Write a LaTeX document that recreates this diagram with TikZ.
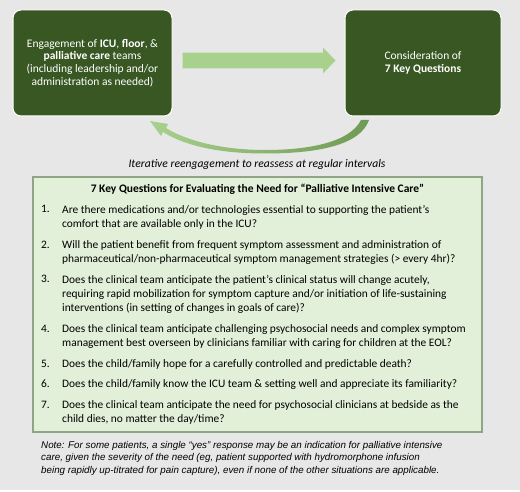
\documentclass[tikz,border=0pt]{standalone}
\usepackage{fontspec}
\setmainfont{Carlito}
\newfontfamily\notefont{Liberation Sans}
\usetikzlibrary{positioning}

\definecolor{bgGray}{HTML}{E7E7E7}
\definecolor{teamGreen}{HTML}{385723}
\definecolor{arrowGreen}{HTML}{A9D18E}
\definecolor{loopGreen}{HTML}{6E9A54}
\definecolor{qFill}{HTML}{E2EFD9}
\definecolor{qEdge}{HTML}{8FA585}

\begin{document}
\begin{tikzpicture}[
  x=1pt, y=-1pt,
  teambox/.style={draw=white, line width=1pt, fill=teamGreen, rounded corners=8pt,
                  text=white, align=center, inner sep=0pt,
                  font=\fontsize{11.5}{12.7}\selectfont},
  qbox/.style={draw=qEdge, line width=1.5pt, fill=qFill, inner sep=0pt},
  qnum/.style={anchor=base west, inner sep=0pt, font=\fontsize{11.4}{14}\selectfont},
  qtext/.style={anchor=north west, inner sep=0pt, align=left,
                font=\fontsize{11.4}{14}\selectfont},
  notetext/.style={anchor=north west, inner sep=0pt, align=left,
                   font=\notefont\itshape\fontsize{9.8}{12.5}\selectfont},
]
  \fill[bgGray] (0,0) rectangle (520,489.5);
  \fill[white] (0,489.5) rectangle (520,492);
  \useasboundingbox (0,0) rectangle (520,492);

  \node[teambox, minimum width=159pt, minimum height=106pt] (engage) at (92.5,63)
    {Engagement of \textbf{ICU}, \textbf{floor}, \&\\
     \textbf{palliative care} teams\\
     (including leadership and/or\\
     administration as needed)};
  \node[teambox, minimum width=156pt, minimum height=106pt] (consider) at (423,63)
    {Consideration of\\ \textbf{7 Key Questions}};

  \fill[arrowGreen] (182.7,52.7) -- (323,52.7) -- (323,47.7) -- (335.7,60.5)
    -- (323,73.3) -- (323,68.3) -- (182.7,68.3) -- cycle;

  \coordinate (loopstart) at (365,120);
  \coordinate (looptip) at (150,121);
  \shade[left color=arrowGreen, middle color=arrowGreen!90!loopGreen, right color=loopGreen]
    (361,120) .. controls (350,142) and (310,150) .. (265,150)
    .. controls (220,150) and (185,140) .. (166,128) -- (168,124) -- (looptip)
    -- (161,136) -- (163,132) .. controls (185,146) and (220,153.5) .. (265,153.5)
    .. controls (315,153.5) and (360,146) .. (369,120) -- cycle;

  \node[anchor=base, inner sep=0pt, font=\fontsize{11.6}{12.7}\selectfont\itshape] (loopnote)
    at (257,167.5) {Iterative reengagement to reassess at regular intervals};

  \node[qbox, minimum width=449pt, minimum height=255pt] (qbox) at (257.5,304.5) {};
  \node[anchor=base, inner sep=0pt, font=\fontsize{11.5}{14}\selectfont\bfseries] (qtitle)
    at (257.5,193) {7 Key Questions for Evaluating the Need for “Palliative Intensive Care”};

  \node[qnum] (n1) at (41,213) {1.};
  \node[qtext] (q1) at (62,203.2) {\strut Are there medications and/or technologies essential to supporting the patient’s\\
    comfort that are available only in the ICU?};
  \node[qnum] (n2) at (41,248) {2.};
  \node[qtext] (q2) at (62,238.2) {\strut Will the patient benefit from frequent symptom assessment and administration of\\
    pharmaceutical/non-pharmaceutical symptom management strategies (> every 4hr)?};
  \node[qnum] (n3) at (41,283) {3.};
  \node[qtext] (q3) at (62,273.2) {\strut Does the clinical team anticipate the patient’s clinical status will change acutely,\\
    requiring rapid mobilization for symptom capture and/or initiation of life-sustaining\\
    interventions (in setting of changes in goals of care)?};
  \node[qnum] (n4) at (41,332) {4.};
  \node[qtext] (q4) at (62,322.2) {\strut Does the clinical team anticipate challenging psychosocial needs and complex symptom\\
    management best overseen by clinicians familiar with caring for children at the EOL?};
  \node[qnum] (n5) at (41,367) {5.};
  \node[qtext] (q5) at (62,357.2) {\strut Does the child/family hope for a carefully controlled and predictable death?};
  \node[qnum] (n6) at (41,387.5) {6.};
  \node[qtext] (q6) at (62,377.7) {\strut Does the child/family know the ICU team \& setting well and appreciate its familiarity?};
  \node[qnum] (n7) at (41,408) {7.};
  \node[qtext] (q7) at (62,398.2) {\strut Does the clinical team anticipate the need for psychosocial clinicians at bedside as the\\
    child dies, no matter the day/time?};

  \node[notetext] (note) at (41,439.2) {\strut Note: For some patients, a single “yes” response may be an indication for palliative intensive\\
    care, given the severity of the need (eg, patient supported with hydromorphone infusion\\
    being rapidly up-titrated for pain capture), even if none of the other situations are applicable.};
\end{tikzpicture}
\end{document}
